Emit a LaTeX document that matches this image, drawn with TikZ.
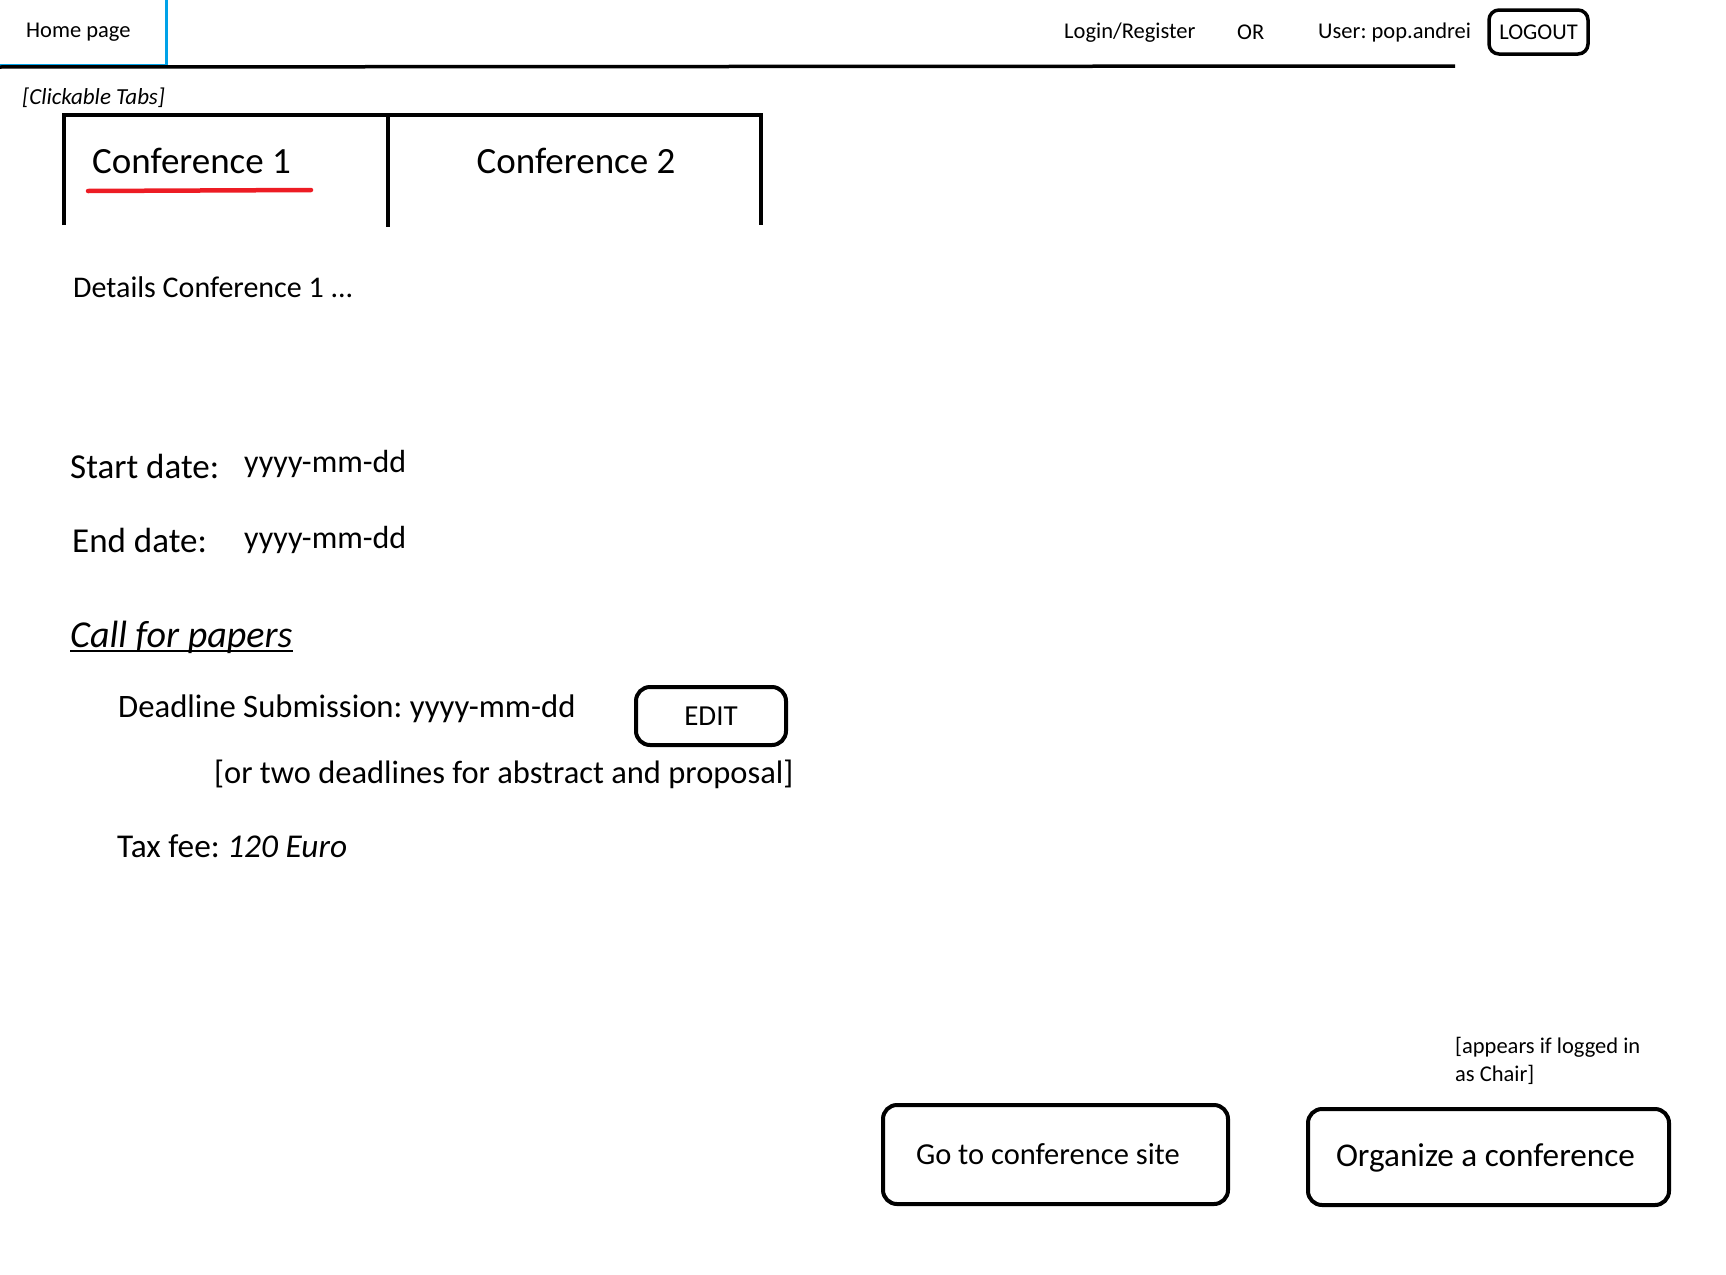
\documentclass[tikz,border=0pt]{standalone}
\usepackage{fontspec}
\setmainfont{Carlito}
\usepackage{tikz}
\definecolor{PaintBlue}{RGB}{0,162,232}
\definecolor{PaintRed}{RGB}{237,28,36}
\frenchspacing

\begin{document}
\begin{tikzpicture}[x=1pt,y=-1pt,
  txt/.style={inner sep=0pt,anchor=base west},
  hdr/.style={txt,font=\fontsize{22.5}{27}\selectfont},
  btn/.style={draw,line width=4pt,rounded corners=14pt,inner sep=0pt}]
\useasboundingbox (0,0) rectangle (1726,1274);
\draw[PaintBlue,line width=3pt] (166,0) -- (166,65) -- (0,65);
\draw[line width=3.5pt] (0,67) -- (1455,66);
\node[hdr] (home) at (26,37) {Home page};
\node[hdr] (login) at (1064,38) {Login/Register};
\node[hdr] (or) at (1237,39) {OR};
\node[hdr] (user) at (1318,38) {User: pop.andrei};
\node[btn,line width=3.5pt,rounded corners=10pt,minimum width=99pt,minimum height=44pt,font=\fontsize{22.5}{27}\selectfont] (logout) at (1538.5,32) {LOGOUT};
\node[txt,font=\fontsize{23}{28}\selectfont\itshape] (tabs) at (22,104) {[Clickable Tabs]};
\draw[line width=4.5pt] (64,225) -- (64,115) -- (761,115) -- (761,225);
\draw[line width=4.5pt] (388,113) -- (388,227);
\node[txt,font=\fontsize{37}{44}\selectfont] (conf1) at (92,173) {Conference 1};
\node[inner sep=0pt,anchor=base,font=\fontsize{37}{44}\selectfont] (conf2) at (576,173) {Conference 2};
\draw[PaintRed,line width=4.5pt,line cap=round] (88,191) -- (311,190);
\node[txt,font=\fontsize{30}{36}\selectfont] (details) at (73,297) {Details Conference 1 ...};
\node[txt,font=\fontsize{35}{42}\selectfont] (startlbl) at (70,478) {Start date:};
\node[txt,font=\fontsize{32}{38}\selectfont] (startval) at (244,472) {yyyy-mm-dd};
\node[txt,font=\fontsize{35}{42}\selectfont] (endlbl) at (72,552) {End date:};
\node[txt,font=\fontsize{32}{38}\selectfont] (endval) at (244,548) {yyyy-mm-dd};
\node[txt,font=\fontsize{38}{45}\selectfont\itshape] (cfp) at (70,647) {Call for papers};
\draw[line width=2.5pt] ([yshift=-4pt]cfp.base west) -- ([yshift=-4pt]cfp.base east);
\node[txt,font=\fontsize{32.7}{39}\selectfont] (deadline) at (118,717) {Deadline Submission: yyyy-mm-dd};
\node[btn,minimum width=150pt,minimum height=58pt,font=\fontsize{29}{35}\selectfont] (edit) at (711,716) {EDIT};
\node[txt,font=\fontsize{32.5}{39}\selectfont] (twodl) at (214,783) {[or two deadlines for abstract and proposal]};
\node[txt,font=\fontsize{33.3}{39}\selectfont] (tax) at (117,857) {Tax fee: \textit{120 Euro}};
\node[txt,align=flush left,font=\fontsize{22.5}{28}\selectfont] (chair) at (1455,1081) {[appears if logged in\\as Chair]};
\node[btn,minimum width=345pt,minimum height=99pt,text width=279pt,align=flush left,font=\fontsize{30.5}{36}\selectfont] (gosite) at (1055.5,1154.5) {Go to conference site};
\node[btn,minimum width=361pt,minimum height=96pt,text width=305pt,align=flush left,text depth=4pt,font=\fontsize{33.2}{39}\selectfont] (organize) at (1488.5,1157) {Organize a conference};
\end{tikzpicture}
\end{document}
